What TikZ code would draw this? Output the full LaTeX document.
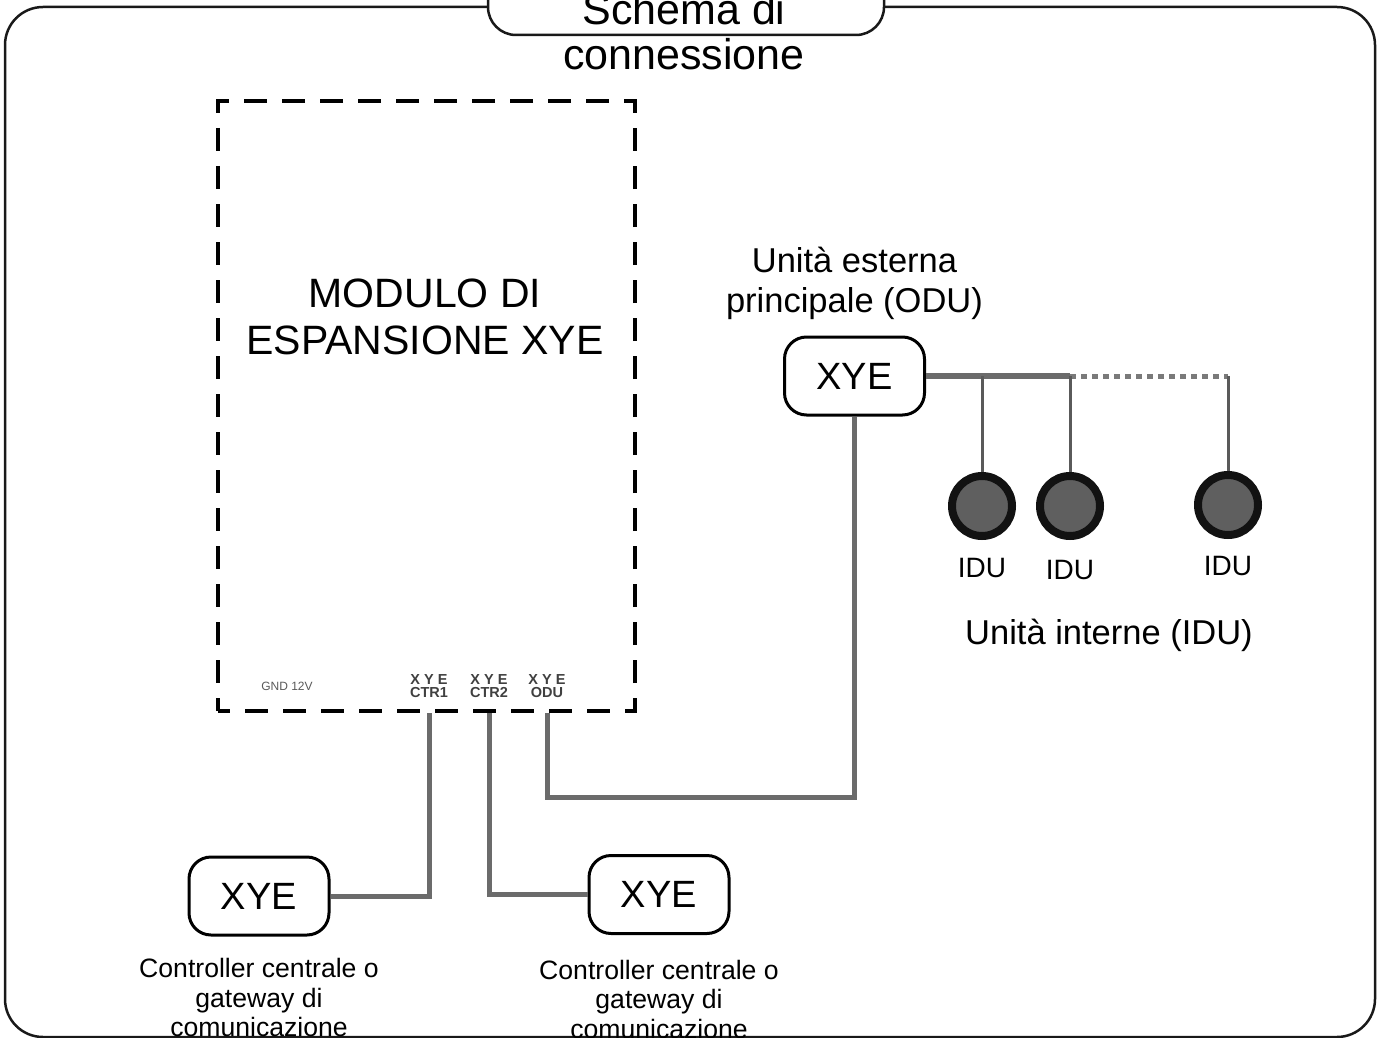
\documentclass[tikz,border=0pt]{standalone}
\usepackage{fontspec}
\setmainfont{Liberation Sans}
\usetikzlibrary{positioning}
\definecolor{wiregray}{HTML}{6B6B6B}
\definecolor{dropgray}{HTML}{5A5A5A}
\definecolor{idufill}{HTML}{5F5F5F}
\definecolor{portgray}{HTML}{404040}

\begin{document}
\begin{tikzpicture}[
    x=1pt, y=-1pt,
    frame/.style={draw=black!90, line width=2.5pt},
    xyebox/.style={draw, line width=3pt, rounded corners=22pt, fill=white,
                   minimum width=140pt, minimum height=78pt,
                   font=\fontsize{38}{40}\selectfont},
    lbl/.style={align=center, inner sep=0pt},
    port/.style={align=center, inner sep=0pt, text=portgray,
                 font=\fontsize{14.5}{13.5}\selectfont\bfseries},
    idu/.style={circle, draw=black!93, line width=8pt, fill=idufill,
                minimum size=60pt, inner sep=0pt},
    wire/.style={draw=wiregray, line width=5pt},
    bus/.style={draw=wiregray, line width=6pt},
    drop/.style={draw=dropgray, line width=3pt},
    dotbus/.style={draw=wiregray!90, line width=5pt, dash pattern=on 6pt off 5pt},
    every node/.append style={font=\fontsize{34.5}{40}\selectfont}
  ]
  \useasboundingbox (0,0) rectangle (1379,1038);

  % frame with title tab
  \draw[frame, rounded corners=38pt] (5,7) rectangle (1375,1037);
  \node[frame, rounded corners=28pt, fill=white, minimum width=396pt,
        minimum height=90pt] (tab) at (686,-10) {};
  \node[lbl, font=\fontsize{43}{45}\selectfont] (title) at (684,32) {Schema di\\connessione};

  % expansion module
  \node[draw, line width=4.5pt, dash pattern=on 23pt off 15pt, dash phase=11pt,
        minimum width=417pt, minimum height=610pt] (module) at (426.5,406) {};
  \node[lbl, font=\fontsize{41}{47}\selectfont] (modtitle) at (425,317) {MODULO DI\\ESPANSIONE XYE};
  \node[lbl, text=black!65, font=\fontsize{12}{14}\selectfont] (gnd) at (287,686) {GND 12V};
  \node[port] (ctr1) at (429,686) {X Y E\\CTR1};
  \node[port] (ctr2) at (489,686) {X Y E\\CTR2};
  \node[port] (oduport) at (547,686) {X Y E\\ODU};

  % outdoor unit
  \node[xyebox] (odu) at (854.5,376) {XYE};
  \node[lbl, above=16pt of odu] (odulbl) {Unità esterna\\principale (ODU)};

  % indoor units
  \node[idu] (idua) at (982,506) {};
  \node[idu] (idub) at (1070,506) {};
  \node[idu] (iduc) at (1228,505) {};
  \node[lbl, below=18pt of idua, font=\fontsize{28}{30}\selectfont] (idualbl) {IDU};
  \node[lbl, below=20pt of idub, font=\fontsize{28}{30}\selectfont] (idublbl) {IDU};
  \node[lbl, below=17pt of iduc, font=\fontsize{28}{30}\selectfont] (iduclbl) {IDU};
  \node[lbl] (idulbl) at (1109,635) {Unità interne (IDU)};

  % central controllers
  \node[xyebox] (ctrla) at (259,896) {XYE};
  \node[xyebox] (ctrlb) at (659,894.5) {XYE};
  \node[lbl, below=22pt of ctrla, font=\fontsize{26.6}{29.5}\selectfont] (ctrlalbl)
       {Controller centrale o\\gateway di\\comunicazione};
  \node[lbl, below=25pt of ctrlb, font=\fontsize{26.6}{29.5}\selectfont] (ctrlblbl)
       {Controller centrale o\\gateway di\\comunicazione};

  % wiring
  \coordinate (wirey) at (0,797);
  \draw[wire] (ctr1 |- module.south) |- (ctrla.east);
  \draw[wire] (ctr2 |- module.south) |- (ctrlb.west);
  \draw[wire] (oduport |- module.south) |- (odu.south |- wirey) -- (odu.south);

  % bus to indoor units
  \coordinate (tapa) at (idua |- odu.east);
  \coordinate (tapb) at (idub |- odu.east);
  \coordinate (tapc) at (iduc |- odu.east);
  \draw[bus] (odu.east) -- (tapb);
  \draw[dotbus] (tapb) -- (tapc);
  \draw[drop] (tapa) -- (idua.north);
  \draw[drop] (tapb) -- (idub.north);
  \draw[drop] (tapc) -- (iduc.north);
\end{tikzpicture}
\end{document}
